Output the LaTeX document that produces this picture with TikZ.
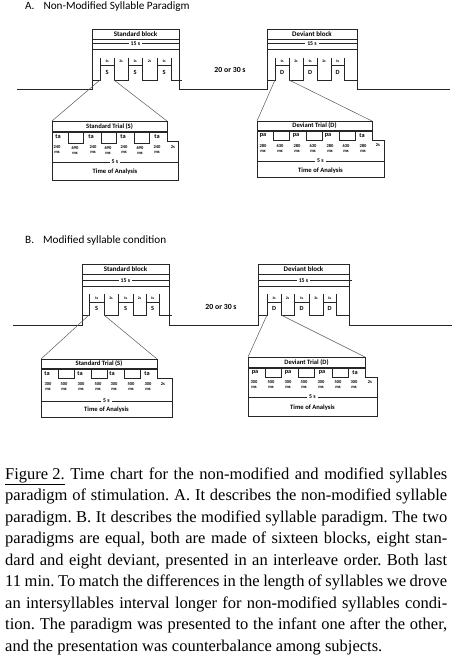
\documentclass[tikz,border=0pt]{standalone}
\usepackage{fontspec}
\setmainfont{Liberation Serif}
\newfontfamily\chartfont{Carlito}
\usetikzlibrary{positioning}

\begin{document}
\begin{tikzpicture}[x=1pt,y=-1pt,
  every node/.style={inner sep=0pt, font=\chartfont},
  wave/.style={draw=black!85, line width=0.8pt},
  thinline/.style={draw=black!85, line width=0.5pt},
  headline/.style={draw=black!85, line width=1.4pt},
  zoomline/.style={draw=black!65, line width=0.5pt},
  paneltitle/.style={anchor=base west, font=\chartfont\fontsize{11.2}{13}\selectfont},
  blocklabel/.style={font=\chartfont\bfseries\fontsize{7}{8}\selectfont},
  gaplabel/.style={font=\chartfont\bfseries\fontsize{7.8}{9}\selectfont},
  triallabel/.style={font=\chartfont\bfseries\fontsize{6.6}{7}\selectfont},
  dimlabel/.style={fill=white, inner xsep=2pt, font=\chartfont\bfseries\fontsize{5.8}{6}\selectfont},
  ticklabel/.style={font=\chartfont\bfseries\fontsize{3.8}{4}\selectfont},
  sylmark/.style={font=\chartfont\bfseries\fontsize{6.3}{7}\selectfont},
  numlabel/.style={align=center, font=\chartfont\bfseries\fontsize{4.5}{5}\selectfont},
  capline/.style={anchor=base west, font=\rmfamily\fontsize{16.5}{19}\selectfont\frenchspacing},
]
\useasboundingbox (0,0) rectangle (452,667);

% ---------- A. non-modified syllables
\node[paneltitle] (titleA) at (25,9) {A.\hspace{9pt}Non-Modified Syllable Paradigm};

% level line with the two blocks
\draw[wave] (17,89) -- (92,89) -- (92,29) -- (179,29) -- (179,89) -- (267,89) -- (267,29) -- (357,29) -- (357,89) -- (450,89);
\node[gaplabel] (gapA) at (230,70) {20 or 30 s};

% standard block
\draw[thinline] (92,39) -- (179,39) (92,43.5) -- (179,43.5) (92,49) -- (179,49);
\node[blocklabel] (stdA) at (135.5,34) {Standard block};
\node[dimlabel] (stdAdur) at (135.5,44) {15 s};
\draw[wave] (92,80) -- (100,80) -- (100,65) -- (114,65) -- (114,80) -- (128,80) -- (128,65) -- (142,65) -- (142,80) -- (157,80) -- (157,65) -- (171,65) -- (171,80) -- (182,80);
\foreach \x in {100,114,128,142,157,171} \draw[thinline] (\x,58) -- (\x,65);
\foreach \x/\t [count=\i] in {107/1s,121/2s,135/1s,149.5/2s,164/1s} \node[ticklabel] (stdAt\i) at (\x,61.5) {\t};
\foreach \x [count=\i] in {107,135,164} \node[sylmark] (stdAs\i) at (\x,72.5) {S};

% deviant block
\draw[thinline] (267,39) -- (357,39) (267,43.5) -- (357,43.5) (267,49) -- (357,49);
\node[blocklabel] (devA) at (312,34) {Deviant block};
\node[dimlabel] (devAdur) at (312,44) {15 s};
\draw[wave] (267,80) -- (275,80) -- (275,65) -- (289,65) -- (289,80) -- (303,80) -- (303,65) -- (317,65) -- (317,80) -- (331,80) -- (331,65) -- (344,65) -- (344,80) -- (357,80);
\foreach \x in {275,289,303,317,331,344} \draw[thinline] (\x,58) -- (\x,65);
\foreach \x/\t [count=\i] in {282/1s,296/2s,310/1s,324/2s,337.5/1s} \node[ticklabel] (devAt\i) at (\x,61.5) {\t};
\foreach \x [count=\i] in {282,310,337.5} \node[sylmark] (devAs\i) at (\x,72.5) {D};

% standard trial
\coordinate (stdApulseL) at (100,80);
\coordinate (stdApulseR) at (114,80);
\coordinate (trialSAnw) at (52,121);
\coordinate (trialSAne) at (167,121);
\draw[wave] (trialSAnw) -- (trialSAne) -- (167,141) -- (178,141) -- (178,180) -- (52,180) -- cycle;
\draw[zoomline] (stdApulseL) -- (trialSAnw);
\draw[zoomline] (stdApulseR) -- (trialSAne);
\draw[headline] (52,132) -- (167,132);
\node[triallabel] (trialSA) at (109.5,127) {Standard Trial (S)};
\foreach \x in {68,101,134} \draw[thinline] (\x,132) rectangle ++(15,11);
\foreach \x/\t [count=\i] in {58/ta,91/ta,123/ta,157/ta} \node[sylmark] (sylSA\i) at (\x,137) {\t};
\foreach \x/\t [count=\i] in {57/240,75/690,93/240,108/690,124/240,140/690,157/240} \node[numlabel] (numSA\i) at (\x,150) {\t\\ms};
\node[numlabel] (restSA) at (173,147.5) {2s};
\draw[thinline] (52,162) -- (178,162);
\node[dimlabel] (durSA) at (115,162) {5 s};
\node[triallabel] (anaSA) at (115,172) {Time of Analysis};

% deviant trial
\coordinate (devApulseL) at (275,80);
\coordinate (devApulseR) at (289,80);
\coordinate (trialDAnw) at (257,121);
\coordinate (trialDAne) at (372,121);
\draw[wave] (trialDAnw) -- (trialDAne) -- (372,140) -- (384,140) -- (384,177) -- (257,177) -- cycle;
\draw[zoomline] (devApulseL) -- (trialDAnw);
\draw[zoomline] (devApulseR) -- (trialDAne);
\draw[headline] (257,131) -- (372,131);
\node[triallabel] (trialDA) at (314.5,126) {Deviant Trial (D)};
\foreach \x in {273,306,339} \draw[thinline] (\x,131) rectangle ++(16.5,9);
\foreach \x/\t [count=\i] in {263/pa,296/pa,328/pa,362/ta} \node[sylmark] (sylDA\i) at (\x,135.5) {\t};
\foreach \x/\t [count=\i] in {263/280,280/630,297/280,313/630,330/280,346/630,363/280} \node[numlabel] (numDA\i) at (\x,148) {\t\\ms};
\node[numlabel] (restDA) at (378,145.5) {2s};
\draw[thinline] (257,161) -- (384,161);
\node[dimlabel] (durDA) at (320.5,161) {5 s};
\node[triallabel] (anaDA) at (320.5,171) {Time of Analysis};

% ---------- B. modified syllables
\node[paneltitle] (titleB) at (25,243.5) {B.\hspace{9pt}Modified syllable condition};

\draw[wave] (13,325) -- (82,325) -- (82,264.5) -- (169,264.5) -- (169,325) -- (258,325) -- (258,264.5) -- (349,264.5) -- (349,325) -- (452,325);
\node[gaplabel] (gapB) at (221,307) {20 or 30 s};

% standard block
\draw[thinline] (82,274.5) -- (169,274.5) (82,280.5) -- (169,280.5) (82,286) -- (169,286);
\node[blocklabel] (stdB) at (125.5,269.5) {Standard block};
\node[dimlabel] (stdBdur) at (125.5,281) {15 s};
\draw[wave] (82,315) -- (89,315) -- (89,302) -- (104,302) -- (104,315) -- (118,315) -- (118,302) -- (133,302) -- (133,315) -- (146,315) -- (146,302) -- (159,302) -- (159,315) -- (172,315);
\foreach \x in {89,104,118,133,146,159} \draw[thinline] (\x,294) -- (\x,302);
\foreach \x/\t [count=\i] in {96.5/1s,111/2s,125.5/1s,139.5/2s,152.5/1s} \node[ticklabel] (stdBt\i) at (\x,298) {\t};
\foreach \x [count=\i] in {96.5,125.5,152.5} \node[sylmark] (stdBs\i) at (\x,308.5) {S};

% deviant block
\draw[thinline] (258,274.5) -- (349,274.5) (258,280.5) -- (352,280.5) (258,286) -- (349,286);
\node[blocklabel] (devB) at (303.5,269.5) {Deviant block};
\node[dimlabel] (devBdur) at (303.5,281) {15 s};
\draw[wave] (258,315) -- (267,315) -- (267,302) -- (281,302) -- (281,315) -- (294,315) -- (294,302) -- (309,302) -- (309,315) -- (323,315) -- (323,302) -- (336,302) -- (336,315) -- (349,315);
\foreach \x in {267,281,294,309,323,336} \draw[thinline] (\x,294) -- (\x,302);
\foreach \x/\t [count=\i] in {274/1s,287.5/2s,301.5/1s,316/2s,329.5/1s} \node[ticklabel] (devBt\i) at (\x,298) {\t};
\foreach \x [count=\i] in {274,301.5,329.5} \node[sylmark] (devBs\i) at (\x,308.5) {D};

% standard trial
\coordinate (stdBpulseL) at (89,315);
\coordinate (stdBpulseR) at (104,315);
\coordinate (trialSBnw) at (41,359);
\coordinate (trialSBne) at (157,359);
\draw[wave] (trialSBnw) -- (trialSBne) -- (157,378) -- (172,378) -- (172,417) -- (41,417) -- cycle;
\draw[zoomline] (stdBpulseL) -- (trialSBnw);
\draw[zoomline] (stdBpulseR) -- (trialSBne);
\draw[headline] (41,369) -- (157,369);
\node[triallabel] (trialSB) at (99,364) {Standard Trial (S)};
\foreach \x in {58,91,124} \draw[thinline] (\x,369) rectangle ++(16,9);
\foreach \x/\t [count=\i] in {47/ta,80/ta,112/ta,147/ta} \node[sylmark] (sylSB\i) at (\x,373.5) {\t};
\foreach \x/\t [count=\i] in {48/300,64/500,81/300,98/500,114/300,131/500,148/300} \node[numlabel] (numSB\i) at (\x,386.5) {\t\\ms};
\node[numlabel] (restSB) at (163,384) {2s};
\draw[thinline] (41,401) -- (172,401);
\node[dimlabel] (durSB) at (106.5,401) {5 s};
\node[triallabel] (anaSB) at (106.5,410) {Time of Analysis};

% deviant trial
\coordinate (devBpulseL) at (267,315);
\coordinate (devBpulseR) at (281,315);
\coordinate (trialDBnw) at (248,357);
\coordinate (trialDBne) at (365,357);
\draw[wave] (trialDBnw) -- (trialDBne) -- (365,377) -- (377,377) -- (377,416) -- (248,416) -- cycle;
\draw[zoomline] (devBpulseL) -- (trialDBnw);
\draw[zoomline] (devBpulseR) -- (trialDBne);
\draw[headline] (248,368) -- (365,368);
\node[triallabel] (trialDB) at (306.5,362.5) {Deviant Trial (D)};
\foreach \x in {265,298,332} \draw[thinline] (\x,368) rectangle ++(16.5,9);
\foreach \x/\t [count=\i] in {255/pa,288/pa,322/pa,355/ta} \node[sylmark] (sylDB\i) at (\x,372.5) {\t};
\foreach \x/\t [count=\i] in {254/300,271/500,288/300,304/500,321/300,338/500,354/300} \node[numlabel] (numDB\i) at (\x,385) {\t\\ms};
\node[numlabel] (restDB) at (370,382.5) {2s};
\draw[thinline] (248,397) -- (377,397);
\node[dimlabel] (durDB) at (312.5,397) {5 s};
\node[triallabel] (anaDB) at (312.5,408) {Time of Analysis};

% ---------- caption
\node[capline] (cap1) at (5,479) {\makebox[442pt][s]{\underline{Figure 2.} Time chart for the non-modified and modified syllables}};
\node[capline] (cap2) at (5,500.5) {\makebox[442pt][s]{paradigm of stimulation. A. It describes the non-modified syllable}};
\node[capline] (cap3) at (5,522) {\makebox[442pt][s]{paradigm. B. It describes the modified syllable paradigm. The two}};
\node[capline] (cap4) at (5,543.5) {\makebox[442pt][s]{paradigms are equal, both are made of sixteen blocks, eight stan-}};
\node[capline] (cap5) at (5,565) {\makebox[442pt][s]{dard and eight deviant, presented in an interleave order. Both last}};
\node[capline] (cap6) at (5,586.5) {\makebox[442pt][s]{11 min. To match the differences in the length of syllables we drove}};
\node[capline] (cap7) at (5,608) {\makebox[442pt][s]{an intersyllables interval longer for non-modified syllables condi-}};
\node[capline] (cap8) at (5,629.5) {\makebox[442pt][s]{tion. The paradigm was presented to the infant one after the other,}};
\node[capline] (cap9) at (5,651) {and the presentation was counterbalance among subjects.};

\end{tikzpicture}
\end{document}
